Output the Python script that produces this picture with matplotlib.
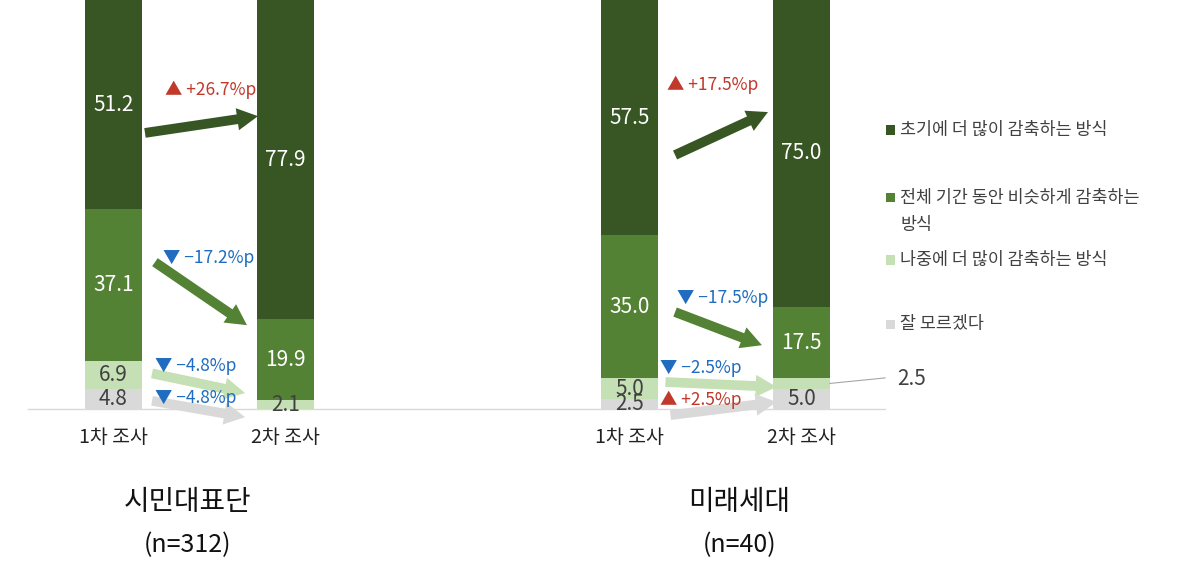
import matplotlib.pyplot as plt
from matplotlib.patches import Rectangle

plt.rcParams['font.family'] = ['Noto Sans CJK KR', 'DejaVu Sans']

# data
groups = ['시민대표단', '미래세대']
group_n = ['(n=312)', '(n=40)']
rounds = ['1차 조사', '2차 조사']
categories = ['잘 모르겠다', '나중에 더 많이 감축하는 방식',
              '전체 기간 동안 비슷하게 감축하는\n방식', '초기에 더 많이 감축하는 방식']
# values bottom -> top (gray, light, mid, dark)
citizen_1 = [4.8, 6.9, 37.1, 51.2]
citizen_2 = [0.0, 2.1, 19.9, 77.9]
future_1 = [2.5, 5.0, 35.0, 57.5]
future_2 = [5.0, 2.5, 17.5, 75.0]

colors = ['#D9D9D9', '#C5E0B4', '#548235', '#375623']
label_colors = ['#404040', '#404040', 'white', 'white']
RED = '#C0392B'
BLUE = '#1F6CC0'

fig = plt.figure(figsize=(12, 5.79), dpi=100)
ax = fig.add_axes([0, 170 / 579, 1, 409 / 579])
ax.set_xlim(-113.5 / 172, (1200 - 113.5) / 172)
ax.set_ylim(0, 100)
ax.axis('off')

width = 0.33
bars = [(0, citizen_1), (1, citizen_2), (3, future_1), (4, future_2)]
for x, vals in bars:
    bottom = 0
    for i, v in enumerate(vals):
        ax.bar(x, v, width=width, bottom=bottom, color=colors[i], linewidth=0)
        if v > 0 and not (x == 4 and i == 1):
            ax.text(x, bottom + v / 2, f'{v:.1f}', ha='center', va='center',
                    fontsize=15, color=label_colors[i])
        bottom += v

# outside label for the thin light segment in the last bar
seg_mid = future_2[0] + future_2[1] / 2
ax.plot([4 + width / 2, 4.486], [seg_mid, 7.6], color='#A6A6A6', lw=0.8, clip_on=False)
ax.text(4.555, 7.3, f'{future_2[1]:.1f}', ha='left', va='center', fontsize=15, color='#404040')

# baseline
ax.plot([-0.497, 4.485], [0, 0], color='#D9D9D9', lw=1, clip_on=False, zorder=0)

# x labels and group titles
for x, lab in zip([0, 1, 3, 4], rounds * 2):
    ax.text(x, -6.9, lab, ha='center', va='center', fontsize=14, color='#222222')
for gx, name, n in zip([0.433, 3.637], groups, group_n):
    ax.text(gx, -22.7, name, ha='center', va='center', fontsize=20, color='#111111')
    ax.text(gx, -33.3, n, ha='center', va='center', fontsize=18, color='#111111')

# change arrows: (tail x, tail y, tip x, tip y, color index)
arrows = [
    (0.183, 67.5, 0.840, 71.6, 3),
    (0.241, 35.9, 0.776, 20.5, 2),
    (0.224, 8.7, 0.765, 3.9, 1),
    (0.224, 2.0, 0.765, -2.0, 0),
    (3.265, 62.1, 3.805, 72.6, 3),
    (3.265, 23.7, 3.770, 15.6, 2),
    (3.209, 6.6, 3.855, 5.4, 1),
    (3.238, -1.5, 3.855, 1.7, 0),
]
for x0, y0, x1, y1, c in arrows:
    ax.annotate('', xy=(x1, y1), xytext=(x0, y0),
                arrowprops=dict(arrowstyle='simple,head_length=15,head_width=16,tail_width=7',
                                mutation_scale=1, color=colors[c], lw=0,
                                shrinkA=0, shrinkB=0),
                annotation_clip=False)

# change labels
changes = [
    (0.30, 78.0, citizen_2[3] - citizen_1[3]),
    (0.288, 36.9, citizen_2[2] - citizen_1[2]),
    (0.241, 10.5, citizen_2[1] - citizen_1[1]),
    (0.241, 2.7, citizen_2[0] - citizen_1[0]),
    (3.218, 79.2, future_2[3] - future_1[3]),
    (3.276, 27.1, future_2[2] - future_1[2]),
    (3.177, 10.0, future_2[1] - future_1[1]),
    (3.177, 2.2, future_2[0] - future_1[0]),
]
for x, y, d in changes:
    if d > 0:
        s, col = f'▲ +{d:.1f}%p', RED
    else:
        s, col = f'▼ \u2212{abs(d):.1f}%p', BLUE
    ax.text(x, y, s, ha='left', va='center', fontsize=12.5, color=col, zorder=5)

# legend (top -> bottom)
leg_y = [130, 211.5, 260, 324]
sq_y = [130, 197, 260, 324]
for k, idx in enumerate([3, 2, 1, 0]):
    fig.add_artist(Rectangle((886 / 1200, 1 - (sq_y[k] + 4.5) / 579), 9 / 1200, 9 / 579,
                             transform=fig.transFigure, color=colors[idx], lw=0))
    fig.text(900 / 1200, 1 - leg_y[k] / 579, categories[idx], ha='left', va='center',
             fontsize=12.5, color='#404040', linespacing=1.7)

fig.savefig('out.png', dpi=100)
